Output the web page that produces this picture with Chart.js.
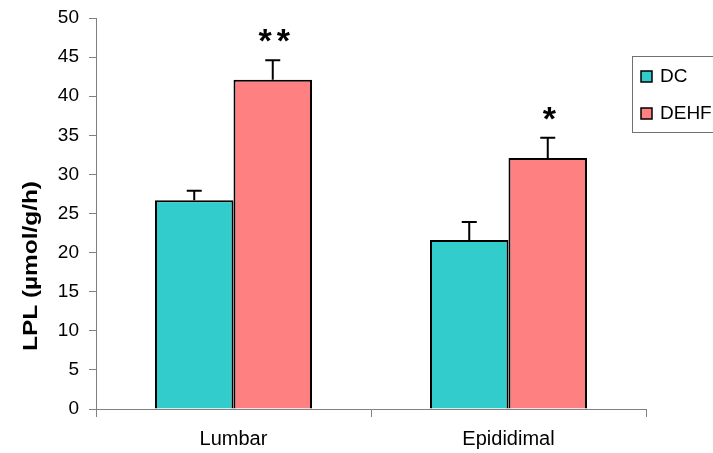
<!DOCTYPE html>
<html>
<head>
<meta charset="utf-8">
<script src="https://cdn.jsdelivr.net/npm/chart.js@4/dist/chart.umd.min.js"></script>
<style>
  html, body { margin: 0; padding: 0; background: #fff; }
  #wrap { width: 713px; height: 453px; }
</style>
</head>
<body>
<div id="wrap"><canvas id="c" width="713" height="453"></canvas></div>
<script>
const categories = ['Lumbar', 'Epididimal'];
const seriesNames = ['DC', 'DEHF'];
const dcValues = [26.7, 21.6];
const dehfValues = [42.1, 32.1];
const dcErrors = [1.2, 2.3];
const dehfErrors = [2.5, 2.6];
const dehfStars = ['**', '*'];
const yTicks = [0, 5, 10, 15, 20, 25, 30, 35, 40, 45, 50];
const yTitle = 'LPL (\u00B5mol/g/h)';
const colors = ['#33CCCC', '#FF8080'];

const errors = [dcErrors, dehfErrors];
const stars = [null, dehfStars];

const FONT = '"Liberation Sans", Arial, sans-serif';

const extras = {
  id: 'extras',
  afterDatasetsDraw(chart) {
    const ctx = chart.ctx;
    const ys = chart.scales.y;
    ctx.save();
    chart.data.datasets.forEach((ds, i) => {
      const meta = chart.getDatasetMeta(i);
      meta.data.forEach((el, j) => {
        const v = ds.data[j];
        const e = errors[i][j];
        const yt = ys.getPixelForValue(v);
        const ye = ys.getPixelForValue(v + e);
        ctx.strokeStyle = '#000';
        ctx.lineWidth = 2;
        ctx.beginPath();
        ctx.moveTo(el.x, yt);
        ctx.lineTo(el.x, ye);
        ctx.moveTo(el.x - 7.5, ye);
        ctx.lineTo(el.x + 7.5, ye);
        ctx.stroke();
        if (stars[i] && stars[i][j]) {
          ctx.fillStyle = '#000';
          ctx.font = 'bold 34px ' + FONT;
          ctx.letterSpacing = '5px';
          ctx.textAlign = 'center';
          ctx.textBaseline = 'alphabetic';
          ctx.fillText(stars[i][j], el.x + 4, ye - 8);
          ctx.letterSpacing = '0px';
        }
      });
    });
    ctx.restore();
  },
  afterDraw(chart) {
    const ctx = chart.ctx;
    ctx.save();
    ctx.translate(31, 266);
    ctx.rotate(-Math.PI / 2);
    ctx.scale(1.22, 1);
    ctx.fillStyle = '#000';
    ctx.font = 'bold 20px ' + FONT;
    ctx.textAlign = 'center';
    ctx.textBaseline = 'middle';
    ctx.fillText(yTitle, 0, 0);
    ctx.restore();

    ctx.save();
    ctx.strokeStyle = '#707070';
    ctx.lineWidth = 1;
    ctx.strokeRect(632.5, 56.5, 100, 76);
    seriesNames.forEach((name, i) => {
      const cy = 76 + i * 37;
      ctx.fillStyle = colors[i];
      ctx.fillRect(641, cy - 5, 11, 11);
      ctx.strokeStyle = '#000';
      ctx.lineWidth = 1.5;
      ctx.strokeRect(641, cy - 5, 11, 11);
      ctx.fillStyle = '#000';
      ctx.font = '19px ' + FONT;
      ctx.textAlign = 'left';
      ctx.textBaseline = 'middle';
      ctx.fillText(name, 660, cy + 1);
    });
    ctx.restore();
  }
};

new Chart(document.getElementById('c'), {
  type: 'bar',
  data: {
    labels: categories,
    datasets: [
      { label: seriesNames[0], data: dcValues, backgroundColor: colors[0], borderColor: '#000', borderWidth: 2 },
      { label: seriesNames[1], data: dehfValues, backgroundColor: colors[1], borderColor: '#000', borderWidth: 2 }
    ]
  },
  options: {
    responsive: false,
    animation: false,
    devicePixelRatio: 1,
    layout: { padding: { top: 18, right: 67, left: 0, bottom: 0 } },
    plugins: { legend: { display: false }, tooltip: { enabled: false } },
    datasets: { bar: { categoryPercentage: 0.571, barPercentage: 1.0 } },
    scales: {
      x: {
        offset: true,
        afterFit(s) { s.height = 44; s.paddingLeft = 0; s.paddingRight = 0; },
        grid: { display: true, drawOnChartArea: false, drawTicks: true, tickLength: 8, offset: true, color: '#808080' },
        border: { display: true, color: '#808080', width: 1 },
        ticks: { color: '#000', font: { family: FONT, size: 20 }, padding: 10 }
      },
      y: {
        min: 0, max: 50,
        afterFit(s) { s.width = 96; s.paddingTop = 0; s.paddingBottom = 0; },
        afterBuildTicks(s) { s.ticks = yTicks.map(v => ({ value: v })); },
        grid: { display: true, drawOnChartArea: false, drawTicks: true, tickLength: 7, color: '#808080' },
        border: { display: true, color: '#808080', width: 1 },
        ticks: { color: '#000', font: { family: FONT, size: 19 }, padding: 10 }
      }
    }
  },
  plugins: [extras]
});
</script>
</body>
</html>
